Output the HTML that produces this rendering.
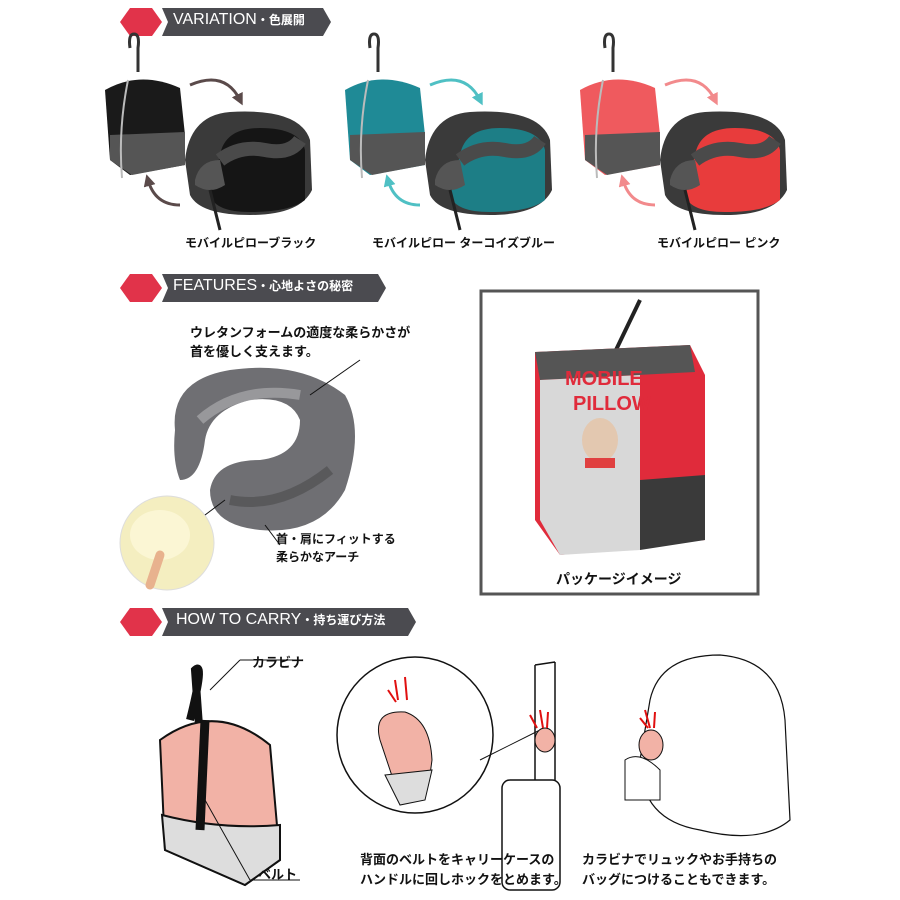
<!DOCTYPE html>
<html><head><meta charset="utf-8"><style>
body{margin:0;background:#fff;}
#c{position:relative;width:900px;height:900px;overflow:hidden;background:#fff;font-family:"Liberation Sans","Noto Sans CJK JP",sans-serif;}
.t{position:absolute;font-weight:bold;color:#111;font-size:13px;white-space:nowrap;}
</style></head><body><div id="c">
<svg width="900" height="900" style="position:absolute;left:0;top:0">
<defs>
<marker id="ah" markerWidth="4" markerHeight="4" refX="2" refY="2" orient="auto"><path d="M0,0L4,2L0,4z" fill="context-stroke"/></marker>
<g id="setv">
 <path d="M30,48 Q28,34 34,34 Q40,34 38,48 L38,72" stroke="#333" stroke-width="3" fill="none"/>
 <path d="M5,90 Q40,70 80,88 L85,135 L85,165 L30,175 L10,160 Z" fill="var(--b)"/>
 <path d="M10,135 L85,132 L85,165 L32,175 L10,160Z" fill="#555"/>
 <path d="M28,80 Q18,130 22,178" stroke="#bbb" stroke-width="2" fill="none"/>
 <path d="M85,160 Q90,115 130,112 Q200,108 210,140 L212,190 Q200,215 150,215 Q100,215 90,195Z" fill="#3a3a3a"/>
 <path d="M120,155 Q125,128 160,128 Q200,128 205,150 L205,200 Q190,212 150,212 Q115,212 110,195Z" fill="var(--p)"/>
 <path d="M120,160 Q140,145 165,150 Q190,155 200,140" stroke="#4a4a4a" stroke-width="14" fill="none"/>
 <path d="M95,180 Q100,160 120,160 L125,185 Q110,195 95,185Z" fill="#555"/>
 <path d="M110,190 L120,230" stroke="#222" stroke-width="3"/>
 <path d="M90,85 Q125,70 140,100" stroke="var(--a)" stroke-width="3" fill="none" marker-end="url(#ah)"/>
 <path d="M80,205 Q55,205 48,180" stroke="var(--a)" stroke-width="3" fill="none" marker-end="url(#ah)"/>
</g>
</defs>
<polygon points="120,22 130,8 152,8 162,22 152,36 130,36" fill="#e1334a"/>
<polygon points="162,8 323,8 331,22 323,36 162,36 168,22" fill="#4b4b50"/>
<polygon points="120,288 130,274 152,274 162,288 152,302 130,302 " fill="#e1334a"/>
<polygon points="162,274 378,274 386,288 378,302 162,302 168,288" fill="#4b4b50"/>
<polygon points="120,622 130,608 152,608 162,622 152,636 130,636" fill="#e1334a"/>
<polygon points="162,608 408,608 416,622 408,636 162,636 168,622" fill="#4b4b50"/>

<g transform="translate(100,0)" style="--b:#1a1a1a;--p:#151515;--a:#5a4a4a"><use href="#setv"/></g>
<g transform="translate(340,0)" style="--b:#1f8a96;--p:#1d7e86;--a:#4fc0c4"><use href="#setv"/></g>
<g transform="translate(575,0)" style="--b:#ef5a5e;--p:#e83c3c;--a:#f28a8c"><use href="#setv"/></g>

<path d="M175,430 Q170,380 230,370 Q300,360 345,395 Q365,430 345,490 Q320,535 260,530 Q210,525 210,490 Q215,460 260,460 Q300,455 300,420 Q290,395 250,400 Q210,410 205,440 Q200,480 180,480 Q172,460 175,430Z" fill="#6f6f73"/>
<path d="M200,420 Q240,385 300,395" stroke="#a9a9ad" stroke-width="10" fill="none" opacity=".7"/>
<path d="M230,500 Q280,510 330,470" stroke="#444" stroke-width="10" fill="none" opacity=".5"/>
<line x1="310" y1="395" x2="360" y2="360" stroke="#111"/>
<line x1="265" y1="525" x2="280" y2="545" stroke="#111"/>
<circle cx="167" cy="543" r="47" fill="#f4eec0" stroke="#ddd"/>
<ellipse cx="160" cy="535" rx="30" ry="25" fill="#fbf6d4"/>
<path d="M150,585 L160,555" stroke="#e8b28e" stroke-width="9" stroke-linecap="round"/>
<path d="M205,515 L225,500" stroke="#111"/>
<rect x="481" y="291" width="277" height="303" fill="#fff" stroke="#555" stroke-width="3"/>
<path d="M615,352 L640,300" stroke="#222" stroke-width="4" fill="none"/>
<path d="M535,352 L690,345 L705,375 L705,540 L560,555 L535,520Z" fill="#e02b3b"/>
<path d="M535,352 L690,345 L695,372 L540,380Z" fill="#555"/>
<path d="M540,380 L640,375 L640,550 L560,555 L540,520Z" fill="#d8d8d8"/>
<path d="M640,480 L705,475 L705,540 L640,550Z" fill="#3a3a3a"/>
<text x="565" y="385" font-family="Liberation Sans" font-weight="bold" font-size="20" fill="#e02b3b">MOBILE</text>
<text x="573" y="410" font-family="Liberation Sans" font-weight="bold" font-size="20" fill="#e02b3b">PILLOW</text>
<ellipse cx="600" cy="440" rx="18" ry="22" fill="#e3c8b0"/>
<rect x="585" y="458" width="30" height="10" fill="#e04040"/>
<path d="M190,720 Q205,660 195,670 L200,740" stroke="#111" stroke-width="8" fill="none"/>
<path d="M160,740 Q215,700 270,745 L280,860 L245,885 L165,850Z" fill="#f2b2a6" stroke="#111" stroke-width="2"/>
<path d="M162,815 Q220,830 280,825 L280,860 L245,885 L165,850Z" fill="#ddd" stroke="#111" stroke-width="2"/>
<path d="M205,720 L200,830" stroke="#111" stroke-width="9"/>
<line x1="210" y1="690" x2="240" y2="660" stroke="#111"/><line x1="240" y1="660" x2="300" y2="660" stroke="#111"/>
<line x1="205" y1="800" x2="250" y2="880" stroke="#111"/><line x1="250" y1="880" x2="300" y2="880" stroke="#111"/>
<circle cx="415" cy="735" r="78" fill="#fff" stroke="#111" stroke-width="1.5"/>
<path d="M380,740 Q372,710 405,712 Q430,720 432,760 L430,775 L400,800Z" fill="#f2b2a6" stroke="#111"/>
<path d="M385,775 L432,770 L425,800 L400,805Z" fill="#ddd" stroke="#111"/>
<path d="M395,680 L398,700 M405,677 L407,700 M388,690 L396,702" stroke="#e01010" stroke-width="2"/>
<line x1="480" y1="760" x2="540" y2="730" stroke="#111"/>
<path d="M535,665 L535,780 M555,662 L555,780 M535,665 L555,662" stroke="#111" fill="none" stroke-width="1.5"/>
<rect x="502" y="780" width="58" height="110" rx="8" fill="#fff" stroke="#111" stroke-width="1.5"/>
<ellipse cx="545" cy="740" rx="10" ry="12" fill="#f2b2a6" stroke="#111"/>
<path d="M530,715 L537,728 M540,710 L543,728 M548,712 L547,728" stroke="#e01010" stroke-width="2"/>
<path d="M650,700 Q660,655 720,655 Q780,660 785,720 L790,820 Q760,845 700,830 Q640,820 640,760Z" fill="#fff" stroke="#111" stroke-width="1.2"/>
<path d="M625,760 Q640,750 660,770 L660,800 L625,800Z" fill="#fff" stroke="#111"/>
<ellipse cx="651" cy="745" rx="12" ry="15" fill="#f2b2a6" stroke="#111"/>
<path d="M640,718 L648,728 M645,710 L650,728 M655,712 L654,728" stroke="#e01010" stroke-width="2"/>
</svg>
<div class="t" style="left:173px;top:11px;color:#fff;font-size:16px;font-weight:normal">VARIATION<span style="font-size:12px;font-weight:bold">・色展開</span></div>
<div class="t" style="left:173px;top:277px;color:#fff;font-size:16px;font-weight:normal">FEATURES<span style="font-size:12px;font-weight:bold">・心地よさの秘密</span></div>
<div class="t" style="left:176px;top:611px;color:#fff;font-size:16px;font-weight:normal">HOW TO CARRY<span style="font-size:12px;font-weight:bold">・持ち運び方法</span></div>
<div class="t" style="left:185px;top:234px;font-size:12px">モバイルピローブラック</div>
<div class="t" style="left:372px;top:234px;font-size:12px">モバイルピロー ターコイズブルー</div>
<div class="t" style="left:657px;top:234px;font-size:12px">モバイルピロー ピンク</div>
<div class="t" style="left:190px;top:322px">ウレタンフォームの適度な柔らかさが<br>首を優しく支えます。</div>
<div class="t" style="left:276px;top:530px;font-size:12px;line-height:18px">首・肩にフィットする<br>柔らかなアーチ</div>
<div class="t" style="left:556px;top:569px;font-size:14px">パッケージイメージ</div>
<div class="t" style="left:252px;top:652px">カラビナ</div>
<div class="t" style="left:258px;top:864px">ベルト</div>
<div class="t" style="left:360px;top:850px;font-size:13px;line-height:20px">背面のベルトをキャリーケースの<br>ハンドルに回しホックをとめます。</div>
<div class="t" style="left:582px;top:850px;font-size:13px;line-height:20px">カラビナでリュックやお手持ちの<br>バッグにつけることもできます。</div>
</div></body></html>
